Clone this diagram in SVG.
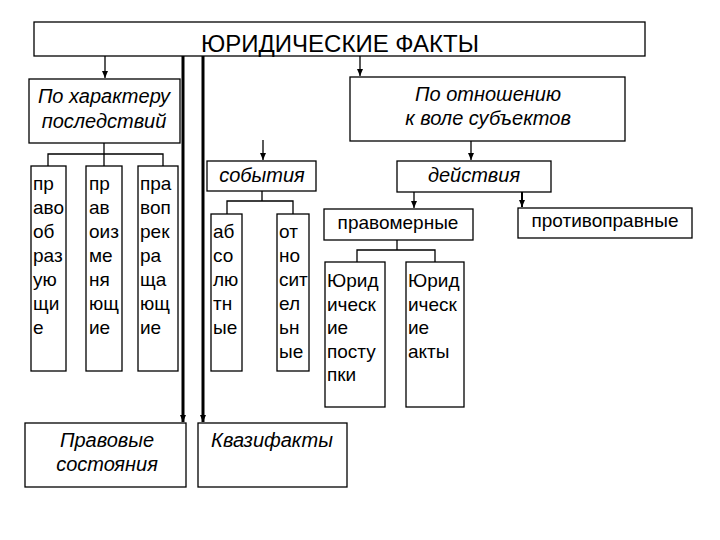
<svg xmlns="http://www.w3.org/2000/svg" width="720" height="540" viewBox="0 0 720 540">
<style>
.box{fill:#fff;stroke:#000;stroke-width:1.3}
.t{font-family:"Liberation Sans",Arial,sans-serif;font-size:19px;fill:#000}
.i{font-family:"Liberation Sans",Arial,sans-serif;font-size:20px;font-style:italic;fill:#000;text-anchor:middle}
.c{text-anchor:middle}
.ln{stroke:#000;stroke-width:1.3;fill:none}
.thick{stroke:#000;stroke-width:3;fill:none}
</style>
<defs>
<marker id="ah" markerWidth="8" markerHeight="8" refX="7" refY="4" orient="auto" markerUnits="userSpaceOnUse">
<path d="M0,1 L7,4 L0,7 Z" fill="#000"/>
</marker>
</defs>
<rect width="720" height="540" fill="#fff"/>
<g id="connectors">
<line class="ln" x1="105" y1="56" x2="105" y2="78" marker-end="url(#ah)"/>
<line class="ln" x1="360" y1="56" x2="360" y2="76" marker-end="url(#ah)"/>
<line class="thick" x1="183" y1="56" x2="183" y2="422" marker-end="url(#ah)"/>
<line class="thick" x1="203" y1="56" x2="203" y2="422" marker-end="url(#ah)"/>
<polyline class="ln" points="104,143 104,166"/>
<polyline class="ln" points="48,166 48,154 163,154 163,166"/>
<line class="ln" x1="263" y1="140" x2="263" y2="160" marker-end="url(#ah)"/>
<line class="ln" x1="471" y1="141" x2="471" y2="160" marker-end="url(#ah)"/>
<polyline class="ln" points="262,191 262,201"/>
<polyline class="ln" points="227,214 227,201 293,201 293,214"/>
<line class="ln" x1="414" y1="192" x2="414" y2="208" marker-end="url(#ah)"/>
<line class="ln" x1="522" y1="192" x2="522" y2="207" marker-end="url(#ah)" style="stroke-width:2"/>
<polyline class="ln" points="397,240 397,250"/>
<polyline class="ln" points="357,262 357,250 435,250 435,262"/>
</g>
<g id="n-top"><rect class="box" x="34" y="22" width="611" height="34"/><text class="t c" x="340" y="52" style="font-size:24px">ЮРИДИЧЕСКИЕ ФАКТЫ</text></g>
<g id="n-char"><rect class="box" x="29" y="79" width="151" height="64"/><text class="i" x="104" y="103">По характеру</text><text class="i" x="104" y="128">последствий</text></g>
<g id="n-will"><rect class="box" x="350" y="77" width="275" height="64"/><text class="i" x="488" y="101">По отношению</text><text class="i" x="488" y="125">к воле субъектов</text></g>
<g id="n-c1"><rect class="box" x="31" y="166" width="35" height="205"/><text class="t" x="33" y="190">пр<tspan x="33" dy="24">аво</tspan><tspan x="33" dy="24">об</tspan><tspan x="33" dy="24">раз</tspan><tspan x="33" dy="24">ую</tspan><tspan x="33" dy="24">щи</tspan><tspan x="33" dy="24">е</tspan></text></g>
<g id="n-c2"><rect class="box" x="86" y="166" width="36" height="205"/><text class="t" x="89" y="190">пр<tspan x="89" dy="24">ав</tspan><tspan x="89" dy="24">оиз</tspan><tspan x="89" dy="24">ме</tspan><tspan x="89" dy="24">ня</tspan><tspan x="89" dy="24">ющ</tspan><tspan x="89" dy="24">ие</tspan></text></g>
<g id="n-c3"><rect class="box" x="138" y="166" width="40" height="205"/><text class="t" x="140" y="190">пра<tspan x="140" dy="24">воп</tspan><tspan x="140" dy="24">рек</tspan><tspan x="140" dy="24">ра</tspan><tspan x="140" dy="24">ща</tspan><tspan x="140" dy="24">ющ</tspan><tspan x="140" dy="24">ие</tspan></text></g>
<g id="n-events"><rect class="box" x="207" y="161" width="109" height="30"/><text class="i" x="262" y="182">события</text></g>
<g id="n-abs"><rect class="box" x="211" y="214" width="31" height="157"/><text class="t" x="213" y="238">аб<tspan x="213" dy="24">со</tspan><tspan x="213" dy="24">лю</tspan><tspan x="213" dy="24">тн</tspan><tspan x="213" dy="24">ые</tspan></text></g>
<g id="n-rel"><rect class="box" x="277" y="214" width="32" height="157"/><text class="t" x="279" y="238">от<tspan x="279" dy="24">но</tspan><tspan x="279" dy="24">сит</tspan><tspan x="279" dy="24">ел</tspan><tspan x="279" dy="24">ьн</tspan><tspan x="279" dy="24">ые</tspan></text></g>
<g id="n-actions"><rect class="box" x="397" y="161" width="154" height="31"/><text class="i" x="474" y="182">действия</text></g>
<g id="n-lawful"><rect class="box" x="324" y="209" width="149" height="31"/><text class="t c" x="398" y="229">правомерные</text></g>
<g id="n-unlawful"><rect class="box" x="518" y="208" width="174" height="30"/><text class="t c" x="605" y="227">противоправные</text></g>
<g id="n-deeds"><rect class="box" x="325" y="262" width="60" height="145"/><text class="t" x="327" y="287">Юрид<tspan x="327" dy="23.5">ическ</tspan><tspan x="327" dy="23.5">ие</tspan><tspan x="327" dy="23.5">посту</tspan><tspan x="327" dy="23.5">пки</tspan></text></g>
<g id="n-acts"><rect class="box" x="406" y="262" width="58" height="145"/><text class="t" x="408" y="287">Юрид<tspan x="408" dy="23.5">ическ</tspan><tspan x="408" dy="23.5">ие</tspan><tspan x="408" dy="23.5">акты</tspan></text></g>
<g id="n-states"><rect class="box" x="25" y="423" width="161" height="64"/><text class="i" x="107" y="447">Правовые</text><text class="i" x="107" y="471">состояния</text></g>
<g id="n-quasi"><rect class="box" x="198" y="423" width="149" height="64"/><text class="i" x="272" y="447">Квазифакты</text></g>
</svg>
